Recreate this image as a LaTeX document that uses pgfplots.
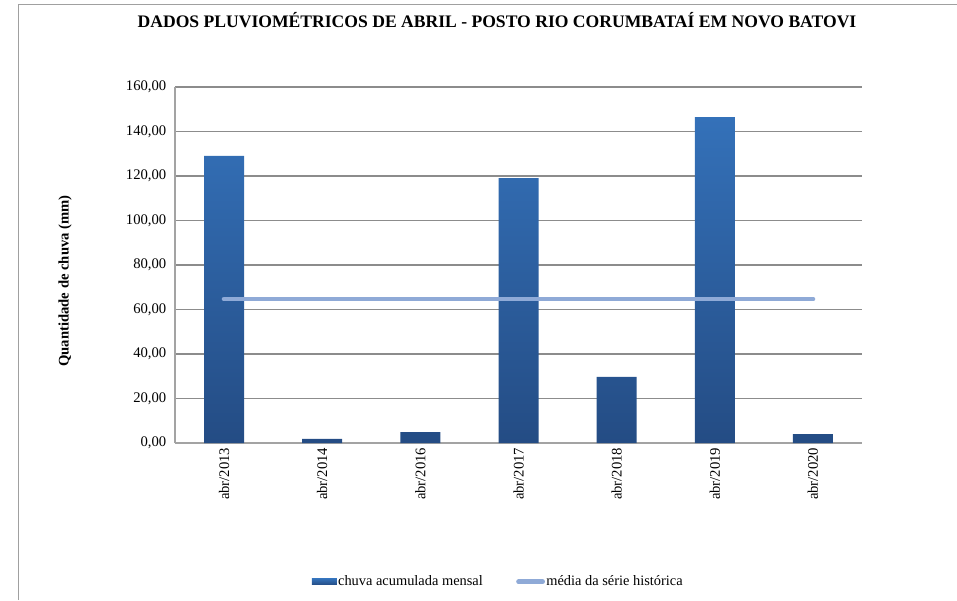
\documentclass[border=0pt]{standalone}
\usepackage{fontspec}
\setmainfont{Liberation Serif}
\usepackage{pgfplots}
\pgfplotsset{compat=1.18}
\definecolor{bartop}{HTML}{3471B9}
\definecolor{barbot}{HTML}{244C84}
\definecolor{meanline}{HTML}{8FAAD7}
\definecolor{gridc}{HTML}{8C8C8C}
\definecolor{framec}{HTML}{A0A0A0}
\begin{document}
\begin{tikzpicture}
\useasboundingbox (0,0) rectangle (717.75pt,450pt);
\draw[color=framec, line width=1.1pt] (13.75pt,0pt) -- (13.75pt,446.75pt) -- (717.75pt,446.75pt);
\begin{axis}[
  at={(131.25pt,117.75pt)}, anchor=south west,
  scale only axis, width=515.25pt, height=267pt,
  xmin=-0.5, xmax=6.5, ymin=0, ymax=160,
  ytick={0,20,...,160},
  xtick={0,...,6},
  xticklabels={abr/2013,abr/2014,abr/2016,abr/2017,abr/2018,abr/2019,abr/2020},
  axis x line*=bottom, axis y line*=left,
  axis line style={color=gridc!80, line width=0.9pt},
  ymajorgrids, grid style={color=gridc, line width=0.8pt},
  major tick length=0pt,
  tick label style={font=\fontsize{11}{13}\selectfont},
  xticklabel style={rotate=90, anchor=east},
  yticklabel style={xshift=-3pt, /pgf/number format/.cd, fixed, fixed zerofill, precision=2, use comma, 1000 sep={}, assume math mode=true},
  ylabel={\textbf{Quantidade de chuva (mm)}},
  ylabel style={at={(axis description cs:-0.160,0.455)}, anchor=center, font=\fontsize{11}{13}\selectfont},
  title={\textbf{DADOS PLUVIOMÉTRICOS DE ABRIL - POSTO RIO CORUMBATAÍ EM NOVO BATOVI}},
  title style={at={(axis description cs:0.4687,1.165)}, anchor=center, font=\fontsize{13.2}{15}\selectfont},
  legend columns=2,
  legend style={at={(axis description cs:0.470,-0.390)}, anchor=center, draw=none, fill=none,
    font=\fontsize{10.8}{13}\selectfont, nodes={inner sep=1pt},
    /tikz/every even column/.append style={column sep=24pt}},
  legend cell align=left,
]
\addplot[ybar, bar width=30pt, draw=none, top color=bartop, bottom color=barbot,
  legend image code/.code={\fill[top color=bartop, bottom color=barbot] (0pt,-2.3pt) rectangle (18.75pt,2.3pt);}]
  coordinates {(0,129.0) (1,1.8) (2,4.9) (3,119.1) (4,29.7) (5,146.5) (6,4.0)};
\addlegendentry{chuva acumulada mensal}
\addplot[color=meanline, line width=3.6pt, line cap=round,
  legend image code/.code={\draw[color=meanline, line width=3.6pt, line cap=round] (1.5pt,0pt) -- (19.5pt,0pt);}]
  coordinates {(0,64.7) (6,64.7)};
\addlegendentry{média da série histórica}
\end{axis}
\end{tikzpicture}
\end{document}
